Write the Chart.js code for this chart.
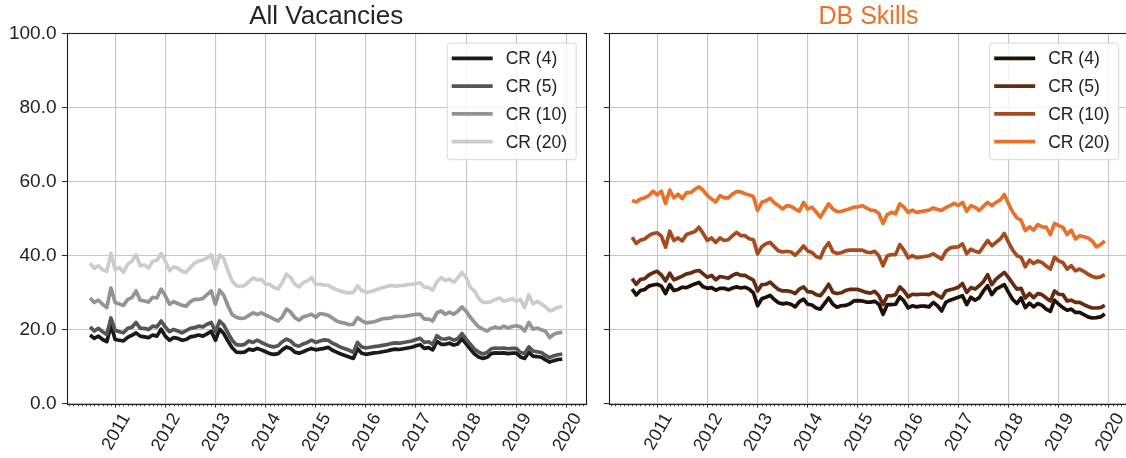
<!DOCTYPE html>
<html>
<head>
<meta charset="utf-8">
<script src="https://cdn.jsdelivr.net/npm/chart.js@4.4.1/dist/chart.umd.min.js"></script>
<style>
html,body{margin:0;padding:0;background:#fff;overflow:hidden;width:1126px;height:458px;position:relative;}
canvas{position:absolute;top:0;}
#c1{left:0;}
#c2{left:600px;}
</style>
</head>
<body>
<canvas id="c1" width="600" height="458"></canvas>
<canvas id="c2" width="530" height="458"></canvas>
<script>
// ---- data (monthly, July 2010 .. December 2019) ----
const startYear = 2010;
const startMonth = 7;
const seriesLabels = ['CR (4)', 'CR (5)', 'CR (10)', 'CR (20)'];
const yearTicks = [2011, 2012, 2013, 2014, 2015, 2016, 2017, 2018, 2019, 2020];
const yTicks = [0, 20, 40, 60, 80, 100];
const panelTitles = ['All Vacancies', 'DB Skills'];

const allCR4 = [18.6,17.7,18.3,17.4,16.8,21.2,17.4,17.2,17.0,18.0,
  18.5,19.2,18.3,18.1,17.9,18.6,18.3,20.2,18.3,17.2,
  17.9,17.7,17.2,17.4,18.1,18.3,18.6,18.3,18.9,19.6,
  17.2,20.2,19.0,17.0,15.2,14.0,13.9,14.0,14.8,14.5,
  15.0,14.6,14.1,13.6,13.4,13.6,14.6,15.4,15.0,14.0,
  13.7,14.1,14.6,15.0,14.6,14.8,15.0,15.3,
  14.5,14.0,13.5,13.1,12.7,12.3,14.9,13.7,13.4,13.6,
  13.8,13.9,14.1,14.3,14.6,14.8,14.7,14.9,15.1,15.3,
  15.7,16.0,15.0,15.2,14.6,16.9,16.1,16.1,16.4,15.9,
  16.2,17.6,16.2,14.8,13.5,12.7,12.3,12.6,13.6,13.8,
  13.7,13.8,13.6,13.7,13.7,12.7,12.3,14.0,12.9,12.8,
  12.6,11.9,11.3,11.7,12.0,12.1];
const allCR5 = [20.8,19.7,20.4,19.5,18.8,23.2,19.9,19.5,19.2,20.4,
  20.7,22.0,20.4,20.4,20.1,21.0,20.8,22.4,20.8,19.5,
  20.1,19.7,19.2,19.8,20.4,20.6,21.0,20.8,21.5,22.0,
  19.5,22.4,21.3,19.2,17.2,16.0,15.9,16.1,17.0,16.6,
  17.2,16.6,16.1,15.6,15.4,15.7,16.8,17.5,17.0,15.9,
  15.6,16.2,16.6,17.2,16.6,17.0,17.3,17.2,
  16.4,15.9,15.3,14.9,14.5,13.9,16.6,15.4,15.1,15.3,
  15.5,15.6,15.8,16.0,16.3,16.5,16.4,16.6,16.8,17.0,
  17.4,17.7,16.6,16.8,16.1,18.4,17.6,17.5,17.8,17.2,
  17.6,19.0,17.5,16.1,14.8,14.0,13.5,13.9,14.9,15.1,
  15.0,15.1,14.9,15.0,15.0,13.9,13.6,15.4,14.3,14.1,
  13.9,13.1,12.5,13.0,13.3,13.5];
const allCR10 = [28.6,27.4,28.0,26.9,26.0,31.3,27.4,27.0,26.6,28.2,
  28.7,30.5,28.0,27.8,27.5,28.8,28.6,31.0,29.2,26.9,
  27.6,27.1,26.6,26.4,27.6,28.2,28.2,28.5,29.5,30.5,
  26.9,30.7,29.3,26.5,24.1,23.4,23.1,23.2,23.9,24.6,
  24.1,24.6,24.0,23.5,22.9,22.4,23.5,25.6,24.8,23.3,
  22.6,23.5,23.8,24.2,23.4,24.4,24.2,23.9,
  23.2,22.4,22.0,21.8,21.4,21.5,23.3,22.5,21.9,22.0,
  22.2,22.6,23.0,23.1,23.2,23.6,23.6,23.6,23.8,24.0,
  24.2,24.2,22.9,22.9,22.4,24.6,25.1,24.2,24.8,24.2,
  25.0,26.2,25.0,23.4,22.0,20.8,20.2,19.7,20.4,20.8,
  20.4,21.0,20.5,20.9,21.1,20.8,19.7,22.0,20.2,20.5,
  20.0,19.6,17.9,18.8,19.2,19.3];
const allCR20 = [38.0,36.6,37.3,36.2,35.8,40.6,36.3,36.8,35.5,37.7,
  38.5,40.3,37.3,37.5,36.7,38.5,38.7,40.6,38.6,36.0,
  37.0,36.6,35.8,35.5,36.8,38.0,38.6,38.8,39.4,40.3,
  36.4,40.2,39.2,36.0,33.2,31.9,31.7,32.0,33.0,34.0,
  33.5,33.6,32.3,32.3,31.4,31.0,32.8,35.0,34.1,32.3,
  31.6,32.7,33.2,34.1,32.3,32.3,32.1,32.0,
  31.4,30.8,30.5,30.1,30.0,30.1,31.9,30.6,30.1,30.3,
  30.6,31.0,31.4,31.7,32.0,31.8,31.9,32.0,32.2,32.3,
  32.5,32.7,31.5,31.5,30.7,33.0,34.1,33.3,33.7,32.8,
  34.0,35.5,34.1,31.4,30.5,28.5,27.4,27.4,27.6,28.2,
  28.6,27.7,28.0,28.4,27.7,28.2,26.0,29.5,27.0,27.7,
  27.0,26.2,25.1,25.5,26.1,26.3];

const dbCR4 = [31.0,29.4,30.6,30.9,31.8,32.1,32.3,31.8,29.8,32.2,
  30.6,30.9,31.5,31.4,31.9,32.4,32.8,31.6,31.2,31.4,
  30.7,31.2,31.2,30.8,31.3,31.6,31.3,31.5,31.0,30.0,
  26.5,28.4,28.8,29.3,28.2,27.3,27.0,27.2,26.9,26.2,
  27.6,28.3,26.9,26.7,25.9,25.6,27.1,28.6,26.9,26.1,
  26.5,26.6,27.0,27.8,27.9,
  27.8,27.5,27.5,27.7,26.9,24.2,26.8,26.8,26.9,28.9,
  27.8,25.9,26.5,26.2,26.4,26.4,26.2,27.4,26.5,25.1,
  27.4,28.0,28.4,28.8,29.2,26.8,28.8,28.0,28.7,30.5,
  31.9,29.5,31.0,31.6,32.2,30.1,28.2,27.1,28.6,26.0,
  27.2,26.2,27.1,26.6,25.6,25.0,28.0,26.9,26.0,25.3,
  25.6,24.7,24.7,24.1,23.5,23.2,23.3,23.5,24.3];
const dbCR5 = [33.8,32.3,33.6,33.8,34.8,35.4,35.8,34.8,33.2,35.3,
  33.5,34.0,34.5,35.1,35.3,35.8,36.0,35.1,34.2,34.7,
  33.5,34.4,34.2,33.9,34.7,35.2,34.7,34.7,34.0,33.4,
  30.5,32.2,32.3,32.9,31.8,30.9,30.5,30.5,30.3,29.8,
  31.0,31.6,30.3,30.2,29.5,29.2,30.6,32.3,30.1,29.8,
  30.0,30.6,30.9,30.9,30.9,
  30.5,30.1,29.9,30.4,29.2,26.8,29.2,29.2,29.5,31.6,
  30.5,28.9,29.6,29.5,29.6,29.6,29.5,30.1,29.3,28.6,
  30.5,30.8,31.1,31.5,32.5,30.1,31.4,31.0,31.9,33.0,
  34.9,32.2,33.7,34.6,35.5,34.1,32.5,31.0,31.2,28.6,
  29.8,28.7,29.8,29.5,28.6,27.8,30.5,29.6,29.5,27.8,
  28.0,27.4,27.4,26.8,26.3,25.9,25.9,26.0,26.6];
const dbCR10 = [45.0,43.3,44.2,44.5,45.4,46.0,46.2,45.3,42.3,46.6,
  44.1,44.8,44.0,45.7,46.1,46.5,47.7,46.0,44.1,44.8,
  43.6,44.8,44.1,44.3,45.4,46.3,45.4,45.4,44.6,44.3,
  40.5,42.4,43.2,43.6,42.4,41.3,41.0,41.2,41.0,40.1,
  41.3,42.6,41.3,40.9,39.8,39.4,42.0,43.5,41.1,40.6,
  40.8,41.3,41.5,41.5,41.5,
  41.5,41.0,40.8,41.2,40.0,37.3,40.0,40.3,40.3,43.0,
  41.5,39.4,40.0,39.5,39.6,39.8,40.0,40.5,39.8,39.1,
  41.2,42.1,42.3,42.4,43.2,40.5,41.8,41.2,40.9,42.5,
  44.1,42.7,43.6,44.5,46.0,43.6,41.5,40.0,39.6,37.0,
  38.8,37.9,38.6,38.2,37.2,36.4,39.6,38.6,38.2,36.4,
  37.3,35.9,36.4,35.8,35.0,34.4,34.1,34.3,34.9];
const dbCR20 = [54.9,54.5,55.3,55.6,56.2,57.4,56.4,57.4,54.1,57.7,
  55.6,56.6,55.4,57.0,57.0,57.9,58.6,57.6,56.2,55.3,
  54.5,56.2,55.6,55.6,56.6,57.3,57.2,56.7,56.4,56.0,
  52.2,54.4,54.8,55.5,54.3,53.5,52.6,53.5,53.3,52.6,
  52.0,54.4,52.6,53.1,51.8,50.4,52.2,54.0,52.6,51.9,
  52.0,52.3,52.7,53.1,53.2,
  53.5,52.9,52.3,52.2,51.4,48.7,51.1,51.7,51.3,54.0,
  53.1,51.7,52.3,51.7,51.9,52.1,52.3,52.9,52.5,52.2,
  53.0,53.5,54.1,53.5,54.4,52.0,53.5,53.1,52.2,53.3,
  54.4,53.5,54.4,55.0,56.5,54.0,51.8,50.2,49.6,46.8,
  47.8,46.9,48.4,47.8,47.7,45.7,48.7,48.1,47.7,45.7,
  46.9,44.5,45.4,45.1,44.8,44.0,42.4,43.0,44.0];

// ---- styling ----
const greyColors = ['#1a1a1a', '#555555', '#949494', '#cccccc'];
const brownColors = ['#1e0f07', '#622d11', '#a64b1d', '#e8712b'];
const FONT = "'Liberation Sans', Arial, sans-serif";
const GRID = '#c6c6c6';
const INK = '#222222';
const xMin = 2010.03, xMax = 2020.39;

function monthX(i) { return startYear + (startMonth - 1 + i) / 12; }

function makeDatasets(arrs, colors) {
  return arrs.map((arr, k) => ({
    label: seriesLabels[k],
    data: arr.map((v, i) => ({ x: monthX(i), y: v })),
    borderColor: colors[k],
    backgroundColor: colors[k],
    borderWidth: 3.7,
    pointRadius: 0,
    pointHoverRadius: 0,
    tension: 0,
    fill: false,
    borderJoinStyle: 'round',
    borderCapStyle: 'butt',
    order: arrs.length - 1 - k
  }));
}

const framePlugin = {
  id: 'frameAndMinor',
  afterDraw(chart) {
    const ctx = chart.ctx, a = chart.chartArea, xs = chart.scales.x;
    ctx.save();
    ctx.strokeStyle = INK;
    ctx.lineWidth = 0.8;
    for (let k = 0; k < 12 * 13; k++) {
      if (k % 12 === 0) continue;
      const v = 2009 + k / 12;
      if (v < xs.min || v > xs.max) continue;
      const px = Math.round(xs.getPixelForValue(v)) + 0.5;
      ctx.beginPath();
      ctx.moveTo(px, a.bottom);
      ctx.lineTo(px, a.bottom + 2.3);
      ctx.stroke();
    }
    ctx.lineWidth = 1.1;
    ctx.strokeStyle = '#1c1c1c';
    const l = Math.round(a.left) + 0.5, t = Math.round(a.top) + 0.5;
    const r = Math.round(a.right) + 0.5, b = Math.round(a.bottom) + 0.5;
    ctx.strokeRect(l, t, r - l, b - t);
    ctx.restore();
  }
};

const boxLegendPlugin = {
  id: 'boxLegend',
  afterDraw(chart) {
    const ctx = chart.ctx, a = chart.chartArea;
    const w = 129, h = 116.5;
    const x0 = a.right - 10.3 - w, y0 = a.top + 9.4;
    ctx.save();
    ctx.beginPath();
    ctx.roundRect(x0 + 0.5, y0 + 0.5, w, h, 3);
    ctx.fillStyle = 'rgba(255,255,255,0.8)';
    ctx.fill();
    ctx.strokeStyle = '#d8d8d8';
    ctx.lineWidth = 1;
    ctx.stroke();
    ctx.font = '17.5px ' + FONT;
    ctx.textBaseline = 'middle';
    ctx.textAlign = 'left';
    chart.data.datasets.forEach((ds, i) => {
      const y = y0 + 15.6 + i * 27.8;
      ctx.beginPath();
      ctx.strokeStyle = ds.borderColor;
      ctx.lineWidth = ds.borderWidth;
      ctx.moveTo(x0 + 5, y);
      ctx.lineTo(x0 + 46, y);
      ctx.stroke();
      ctx.fillStyle = INK;
      ctx.fillText(ds.label, x0 + 59, y + 1);
    });
    ctx.restore();
  }
};

function build(id, title, titleColor, arrs, colors, showY, yWidth, padRight, titleSize) {
  return new Chart(document.getElementById(id), {
    type: 'line',
    data: { datasets: makeDatasets(arrs, colors) },
    options: {
      responsive: false,
      animation: false,
      devicePixelRatio: 1,
      events: [],
      layout: { padding: { left: 0, right: padRight, top: 0, bottom: 0 } },
      plugins: {
        legend: { display: false },
        tooltip: { enabled: false },
        title: {
          display: true, text: title, color: titleColor, fullSize: false,
          font: { family: FONT, size: titleSize, weight: 'normal', lineHeight: 1.2 },
          padding: { top: 33.3 - titleSize * 1.2 - 1.3, bottom: 1.3 }
        }
      },
      scales: {
        x: {
          type: 'linear', min: xMin, max: xMax,
          afterFit: s => { s.height = 54; },
          afterBuildTicks: s => { s.ticks = yearTicks.map(v => ({ value: v })); },
          grid: { color: GRID, lineWidth: 1.1, drawTicks: true, tickLength: 3.5, tickColor: INK, tickWidth: 1 },
          border: { display: false },
          ticks: {
            autoSkip: false, minRotation: 60, maxRotation: 60, padding: 2, labelOffset: 11,
            color: INK, font: { family: FONT, size: 18 },
            callback: v => String(v)
          }
        },
        y: {
          min: 0, max: 100,
          afterFit: s => { s.width = yWidth; },
          afterBuildTicks: s => { s.ticks = yTicks.map(v => ({ value: v })); },
          grid: { color: GRID, lineWidth: 1.1, drawTicks: true, tickLength: 4.5, tickColor: INK, tickWidth: 1 },
          border: { display: false },
          ticks: {
            display: showY, padding: 5.5, color: INK, font: { family: FONT, size: 19 },
            callback: v => Number(v).toFixed(1)
          }
        }
      }
    },
    plugins: [framePlugin, boxLegendPlugin]
  });
}

build('c1', panelTitles[0], '#262626', [allCR4, allCR5, allCR10, allCR20], greyColors, true, 66.5, 14, 26);
build('c2', panelTitles[1], '#e8712b', [dbCR4, dbCR5, dbCR10, dbCR20], brownColors, false, 8.5, 1.5, 25);
</script>
</body>
</html>
